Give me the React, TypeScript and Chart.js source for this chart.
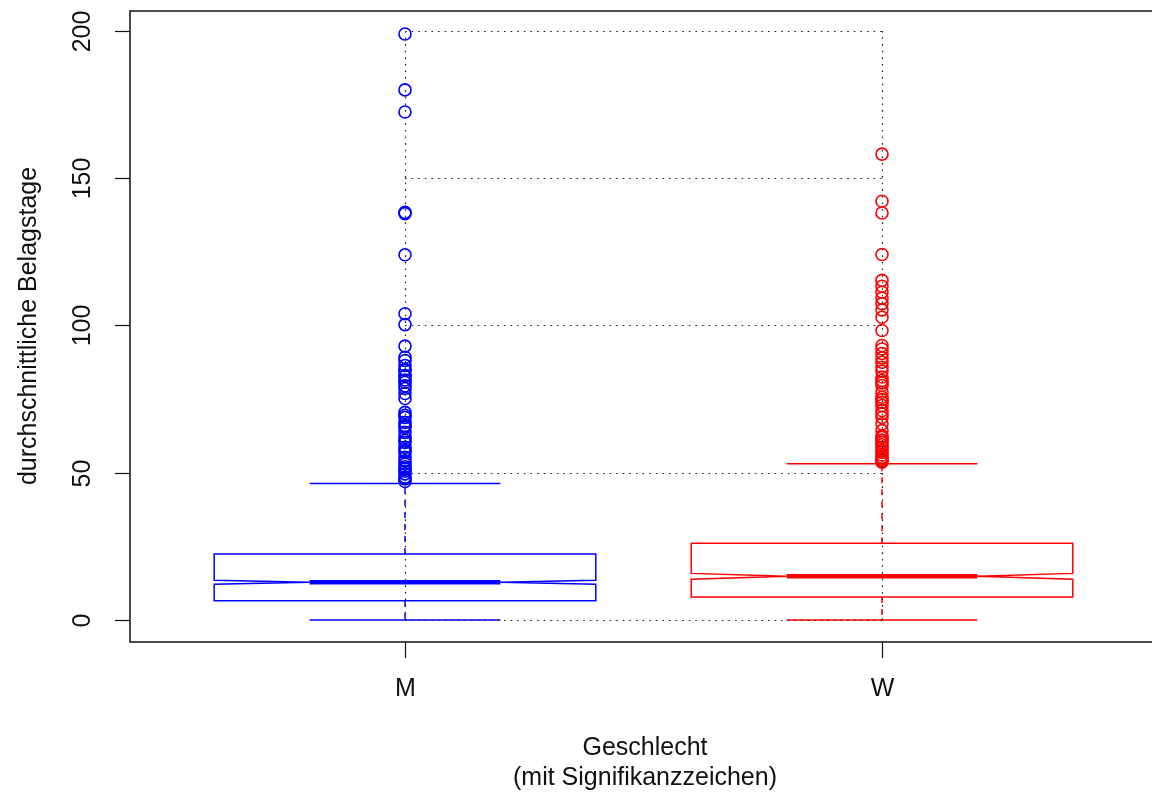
import React, { useEffect, useRef } from 'react';
import { Chart, registerables } from 'chart.js';

Chart.register(...registerables);

const categories = ['M', 'W'];
const boxColors = ['#0000FF', '#FF0000'];
const whiskerLow = [0, 0];
const q1 = [6.5, 7.8];
const medians = [12.8, 14.8];
const q3 = [22.4, 26.0];
const whiskerHigh = [46.3, 53.0];
const notchLow = [12.1, 13.8];
const notchHigh = [13.5, 15.8];

const outliersM = [199, 180, 172.5, 138.4, 138, 124, 104, 100.3, 93, 89.2, 88.1, 86.4, 85, 84.7, 83, 82.7, 81.5, 80.7, 79.5, 78.6, 76.9, 75.2, 70.5, 69.5, 68.8, 67.1, 66, 65.4, 63.7, 62, 61, 60.3, 58.6, 57.5, 56.9, 55.2, 54, 53, 52, 51.3, 50.5, 49.6, 48.5, 47.9, 47];
const outliersW = [158.2, 142.2, 138.2, 124.1, 115.3, 113.3, 111.3, 109.3, 107.4, 105.3, 102.8, 98.3, 93.2, 92, 90.5, 89, 87.5, 85.8, 84.5, 82.5, 81.3, 80.5, 79.6, 77.3, 75.6, 74.8, 73.9, 72.8, 71.1, 70, 68.8, 66.6, 64.3, 62.5, 62, 61, 60.3, 59.5, 58.6, 57.5, 56.9, 56, 55.2, 54.6, 54.1, 53.6];

const yTicks = [0, 50, 100, 150, 200];
const gridLevels = [0, 50, 100, 150, 200];
const yTitle = 'durchschnittliche Belagstage';
const xTitleLines = ['Geschlecht', '(mit Signifikanzzeichen)'];

const FONT = '25px "Liberation Sans", Arial, sans-serif';

const boxPlugin = {
  id: 'rbox',
  beforeDatasetsDraw(chart: any) {
    const { ctx, scales } = chart;
    const xs = scales.x;
    const ys = scales.y;
    ctx.save();
    categories.forEach((_, i) => {
      const xc = i + 1;
      const px = (v: number) => xs.getPixelForValue(v);
      const py = (v: number) => ys.getPixelForValue(v);
      const col = boxColors[i];
      ctx.strokeStyle = col;
      ctx.lineWidth = 1.5;
      ctx.setLineDash([6, 6]);
      ctx.beginPath();
      ctx.moveTo(px(xc), py(q3[i]));
      ctx.lineTo(px(xc), py(whiskerHigh[i]));
      ctx.moveTo(px(xc), py(q1[i]));
      ctx.lineTo(px(xc), py(whiskerLow[i]));
      ctx.stroke();
      ctx.setLineDash([]);
      ctx.beginPath();
      ctx.moveTo(px(xc - 0.2), py(whiskerHigh[i]));
      ctx.lineTo(px(xc + 0.2), py(whiskerHigh[i]));
      ctx.moveTo(px(xc - 0.2), py(whiskerLow[i]));
      ctx.lineTo(px(xc + 0.2), py(whiskerLow[i]));
      ctx.stroke();
      const l = xc - 0.4;
      const r = xc + 0.4;
      ctx.beginPath();
      ctx.moveTo(px(l), py(q1[i]));
      ctx.lineTo(px(l), py(notchLow[i]));
      ctx.lineTo(px(xc - 0.2), py(medians[i]));
      ctx.lineTo(px(l), py(notchHigh[i]));
      ctx.lineTo(px(l), py(q3[i]));
      ctx.lineTo(px(r), py(q3[i]));
      ctx.lineTo(px(r), py(notchHigh[i]));
      ctx.lineTo(px(xc + 0.2), py(medians[i]));
      ctx.lineTo(px(r), py(notchLow[i]));
      ctx.lineTo(px(r), py(q1[i]));
      ctx.closePath();
      ctx.stroke();
      ctx.lineWidth = 4.5;
      ctx.beginPath();
      ctx.moveTo(px(xc - 0.2), py(medians[i]));
      ctx.lineTo(px(xc + 0.2), py(medians[i]));
      ctx.stroke();
    });
    ctx.restore();
  },
  afterDatasetsDraw(chart: any) {
    const { ctx, scales } = chart;
    const xs = scales.x;
    const ys = scales.y;
    ctx.save();
    ctx.strokeStyle = '#222';
    ctx.lineWidth = 1.2;
    ctx.setLineDash([1.6, 5]);
    const x1 = xs.getPixelForValue(1);
    const x2 = xs.getPixelForValue(2);
    gridLevels.forEach((g) => {
      const y = Math.round(ys.getPixelForValue(g)) + 0.5;
      ctx.beginPath();
      ctx.moveTo(x1, y);
      ctx.lineTo(x2, y);
      ctx.stroke();
    });
    [1, 2].forEach((v) => {
      const x = Math.round(xs.getPixelForValue(v)) + 0.5;
      ctx.beginPath();
      ctx.moveTo(x, ys.getPixelForValue(gridLevels[0]));
      ctx.lineTo(x, ys.getPixelForValue(gridLevels[gridLevels.length - 1]));
      ctx.stroke();
    });
    ctx.restore();
  },
  afterDraw(chart: any) {
    const { ctx, scales, chartArea } = chart;
    const xs = scales.x;
    const ys = scales.y;
    const { left, top, right, bottom } = chartArea;
    ctx.save();
    ctx.strokeStyle = '#111';
    ctx.lineWidth = 1.5;
    ctx.setLineDash([]);
    ctx.beginPath();
    ctx.moveTo(right + 2, top);
    ctx.lineTo(left, top);
    ctx.lineTo(left, bottom);
    ctx.lineTo(right + 2, bottom);
    ctx.stroke();
    ctx.lineWidth = 1.2;
    ctx.fillStyle = '#111';
    ctx.font = FONT;
    yTicks.forEach((t) => {
      const y = Math.round(ys.getPixelForValue(t)) + 0.5;
      ctx.beginPath();
      ctx.moveTo(left - 15, y);
      ctx.lineTo(left, y);
      ctx.stroke();
      ctx.save();
      ctx.translate(83, y);
      ctx.rotate(-Math.PI / 2);
      ctx.textAlign = 'center';
      ctx.textBaseline = 'middle';
      ctx.fillText(String(t), 0, 0);
      ctx.restore();
    });
    categories.forEach((c, i) => {
      const x = Math.round(xs.getPixelForValue(i + 1)) + 0.5;
      ctx.beginPath();
      ctx.moveTo(x, bottom);
      ctx.lineTo(x, bottom + 16);
      ctx.stroke();
      ctx.textAlign = 'center';
      ctx.textBaseline = 'middle';
      ctx.fillText(c, x, 689);
    });
    ctx.textAlign = 'center';
    ctx.textBaseline = 'middle';
    ctx.fillText(xTitleLines[0], 645, 748);
    ctx.fillText(xTitleLines[1], 645, 778);
    ctx.save();
    ctx.translate(29, 326);
    ctx.rotate(-Math.PI / 2);
    ctx.fillText(yTitle, 0, 0);
    ctx.restore();
    ctx.restore();
  },
};

export default function App() {
  const ref = useRef<HTMLCanvasElement>(null);
  useEffect(() => {
    if (!ref.current) return;
    const chart = new Chart(ref.current, {
      type: 'scatter',
      data: {
        datasets: [
          {
            label: categories[0],
            data: outliersM.map((v) => ({ x: 1, y: v })),
            pointStyle: 'circle',
            pointRadius: 6,
            pointBorderWidth: 1.6,
            borderColor: boxColors[0],
            backgroundColor: 'rgba(0,0,0,0)',
          },
          {
            label: categories[1],
            data: outliersW.map((v) => ({ x: 2, y: v })),
            pointStyle: 'circle',
            pointRadius: 6,
            pointBorderWidth: 1.6,
            borderColor: boxColors[1],
            backgroundColor: 'rgba(0,0,0,0)',
          },
        ],
      },
      options: {
        animation: false,
        responsive: false,
        maintainAspectRatio: false,
        layout: { autoPadding: false, padding: { left: 130, top: 11, right: 0, bottom: 152 } },
        plugins: { legend: { display: false }, tooltip: { enabled: false } },
        scales: {
          x: { type: 'linear', display: false, min: 0.4235, max: 2.566 },
          y: { type: 'linear', display: false, min: -7.5, max: 206.8 },
        },
      },
      plugins: [boxPlugin],
    });
    return () => chart.destroy();
  }, []);
  return (
    <div style={{ position: 'fixed', left: 0, top: 0, width: 1152, height: 794, background: '#fff' }}>
      <canvas ref={ref} width={1152} height={794} style={{ width: 1152, height: 794 }} />
    </div>
  );
}
